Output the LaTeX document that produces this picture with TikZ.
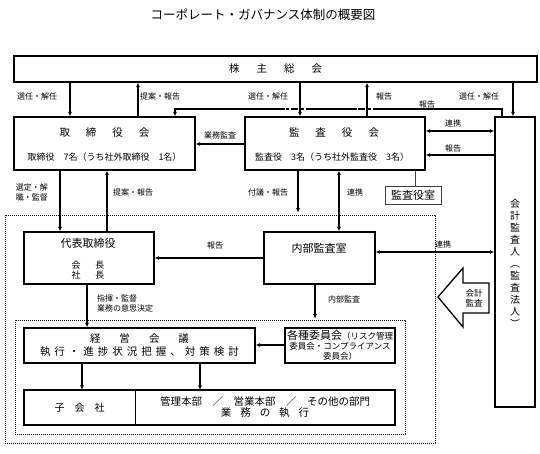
\documentclass[tikz,border=0pt]{standalone}
\usepackage{fontspec}
\setmainfont{Noto Sans CJK JP}
\usetikzlibrary{arrows.meta}

% letter spacing for the spaced headings
\newcommand\spaced[2]{\def\spacedgap{#1}\spacedfirst#2\relax}
\def\spacedfirst#1{#1\spacedrest}
\def\spacedrest#1{\ifx\relax#1\else\hspace{\spacedgap}#1\expandafter\spacedrest\fi}

\begin{document}
\begin{tikzpicture}[x=1pt, y=-1pt]
  %tikz%
  % Governance chart
  %tikz%
    \tikzset{
      box/.style={draw, line width=1.3pt, inner sep=0pt, align=center},
      dotbox/.style={draw, line width=0.6pt, dash pattern=on 0.7pt off 1.3pt, inner sep=0pt},
      conn/.style={line width=1.2pt},
      arr/.style={conn, -{Latex[length=4.5pt,width=4pt]}},
      darr/.style={conn, {Latex[length=4.5pt,width=4pt]}-{Latex[length=4.5pt,width=4pt]}},
      lbl/.style={font=\fontsize{8}{10}\selectfont, inner sep=0pt, align=left},
      txt/.style={inner sep=0pt, align=center}
    }
    \useasboundingbox (0,0) rectangle (540,454);

    \node[txt, font=\fontsize{12.5}{14}\selectfont] (title) at (263,15) {コーポレート・ガバナンス体制の概要図};

    % frames
    \node[dotbox, minimum width=430pt, minimum height=228pt] (execframe) at (220,329) {};
    \node[dotbox, minimum width=390pt, minimum height=114pt] (subframe) at (210,377) {};

    % boxes
    \node[box, minimum width=523pt, minimum height=26pt, font=\fontsize{10.5}{12}\selectfont] (meeting) at (275.5,69) {\spaced{17pt}{株主総会}};

    \node[box, minimum width=181pt, minimum height=53pt] (board) at (104.5,143.5) {};
    \node[txt, font=\fontsize{10.5}{12}\selectfont] (boardtitle) at (104.5,133) {\spaced{16pt}{取締役会}};
    \node[txt, font=\fontsize{9}{10}\selectfont] (boardsub) at (104.5,157) {取締役　7名（うち社外取締役　1名）};

    \node[box, minimum width=180pt, minimum height=53pt] (monitor) at (335,143.5) {};
    \node[txt, font=\fontsize{10.5}{12}\selectfont] (monitortitle) at (334,133) {\spaced{16pt}{監査役会}};
    \node[txt, font=\fontsize{9}{10}\selectfont] (monitorsub) at (332,157) {監査役　3名（うち社外監査役　3名）};

    \node[draw=black!75, line width=0.8pt, minimum width=56pt, minimum height=18pt, inner sep=0pt, font=\fontsize{11}{12}\selectfont] (auditroom) at (413,195.5) {監査役室};

    \node[box, minimum width=40pt, minimum height=290pt] (accaud) at (515,262) {};
    \node[txt, font=\fontsize{10}{12}\selectfont] (accaudtext) at (515,263) {会\\計\\監\\査\\人\\︵\\監\\査\\法\\人\\︶};

    \node[box, minimum width=130pt, minimum height=52pt] (rep) at (89,258) {};
    \node[txt, font=\fontsize{11}{12}\selectfont] (reptitle) at (88,243) {代表取締役};
    \node[txt, font=\fontsize{9}{10}\selectfont] (repnames) at (88,270) {\spaced{15pt}{会長}\\\spaced{15pt}{社長}};

    \node[box, minimum width=111pt, minimum height=52pt] (internal) at (319.5,258) {};
    \node[txt, font=\fontsize{11}{12}\selectfont] (internaltext) at (319,248) {内部監査室};

    \node[box, minimum width=231pt, minimum height=35pt, font=\fontsize{10.5}{13}\selectfont] (mgmt) at (139.5,345.5) {\spaced{19pt}{経営会議}\\\spaced{4pt}{執行・進捗状況把握、対策検討}};

    \node[box, minimum width=110pt, minimum height=35pt, font=\fontsize{8.5}{10}\selectfont] (committee) at (340,345.5) {{\fontsize{11}{11}\selectfont 各種委員会}（リスク管理\\委員会・コンプライアンス\\委員会）};

    \node[box, minimum width=371pt, minimum height=35pt] (lower) at (209.5,407.5) {};
    \node[txt, minimum width=111pt, minimum height=35pt, font=\fontsize{10}{12}\selectfont] (subsid) at (79.5,407.5) {\spaced{10pt}{子会社}};
    \node[txt, minimum width=260pt, minimum height=35pt, font=\fontsize{10.5}{11}\selectfont] (depts) at (265,407.5) {管理本部　／　営業本部　／　その他の部門\\\spaced{9pt}{業務の執行}};
    \draw[line width=0.7pt] (subsid.north east) -- (subsid.south east);

    % connectors
    \draw[arr] (meeting.south -| 70,0) -- (board.north -| 70,0);
    \draw[arr] (board.north -| 138,0) -- (meeting.south -| 138,0);
    \draw[arr] (meeting.south -| 300,0) -- (monitor.north -| 300,0);
    \draw[arr] (monitor.north -| 367,0) -- (meeting.south -| 367,0);
    \draw[arr] (meeting.south -| 513,0) -- (accaud.north -| 513,0);

    \draw[conn] (accaud.north -| 502,0) |- (380,109);
    \draw[conn, dash pattern=on 7pt off 2.5pt on 3pt off 2.5pt] (380,109) -- (357,109);
    \draw[conn] (357,109) -- (313,109);
    \draw[conn, dash pattern=on 7pt off 2.5pt on 3pt off 2.5pt] (313,109) -- (285,109);
    \draw[arr] (285,109) -| (board.north -| 175,0);

    \draw[arr] (monitor.west |- 0,144) -- (board.east |- 0,144);
    \draw[darr] (monitor.east |- 0,131) -- (accaud.west |- 0,131);
    \draw[arr] (accaud.west |- 0,155) -- (monitor.east |- 0,155);
    \draw[line width=0.7pt, black!75] (monitor.south -| 415,0) -- (auditroom.north -| 415,0);

    \draw[arr, shorten >=2pt] (monitor.south -| 298,0) -- (execframe.north -| 298,0);
    \draw[darr] (monitor.south -| 339,0) -- (internal.north -| 339,0);
    \draw[arr] (board.south -| 60,0) -- (rep.north -| 60,0);
    \draw[arr] (rep.north -| 107,0) -- (board.south -| 107,0);

    \draw[arr] (internal.west |- 0,258) -- (rep.east |- 0,258);
    \draw[darr] (internal.east |- 0,252) -- (accaud.west |- 0,252);
    \draw[arr] (rep.south -| 87,0) -- (mgmt.north -| 87,0);
    \draw[arr, shorten >=1pt] (internal.south -| 315,0) -- (subframe.north -| 315,0);
    \draw[arr] (committee.west |- 0,345) -- (mgmt.east |- 0,345);
    \draw[arr] (mgmt.south -| 82,0) -- (subsid.north -| 82,0);
    \draw[arr] (mgmt.south -| 200,0) -- (depts.north -| 200,0);

    % block arrow
    \draw[line width=1.3pt, line join=miter] (438,297) -- (463,268) -- (463,283) -- (489,283)
      -- (489,313) -- (463,313) -- (463,327) -- cycle;
    \node[txt, font=\fontsize{8.5}{10.5}\selectfont] (auditarrow) at (474,298) {会計\\監査};

    % labels
    \node[lbl] (lblA) at (37,96) {選任・解任};
    \node[lbl] (lblB) at (160,96) {提案・報告};
    \node[lbl] (lblC) at (268,96) {選任・解任};
    \node[lbl] (lblD) at (384,96) {報告};
    \node[lbl] (lblE) at (479,96) {選任・解任};
    \node[lbl] (lblF) at (427,104) {報告};
    \node[lbl] (lblG) at (220,135) {業務監査};
    \node[lbl] (lblH) at (453,123) {連携};
    \node[lbl] (lblI) at (453,148) {報告};
    \node[lbl] (lblJ) at (32,192) {選定・解\\職・監督};
    \node[lbl] (lblK) at (133,192) {提案・報告};
    \node[lbl] (lblL) at (268,192) {付議・報告};
    \node[lbl] (lblM) at (355,192) {連携};
    \node[lbl] (lblN) at (215,245) {報告};
    \node[lbl] (lblO) at (443,244) {連携};
    \node[lbl, anchor=west] (lblP) at (97,303) {指揮・監督\\業務の意思決定};
    \node[lbl] (lblQ) at (344,299) {内部監査};

\end{tikzpicture}
\end{document}
